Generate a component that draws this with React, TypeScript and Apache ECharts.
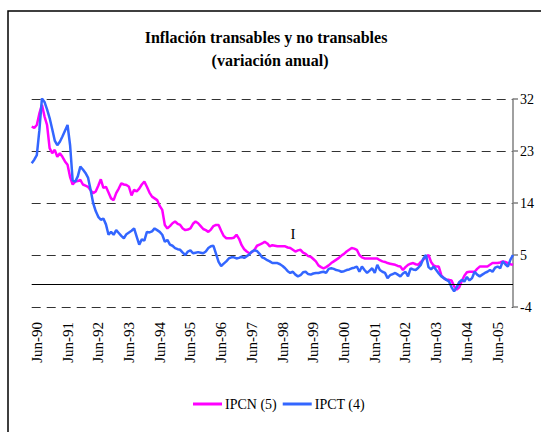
import { useEffect, useRef } from "react";
import * as echarts from "echarts";

const MONTHS = ["Jan", "Feb", "Mar", "Apr", "May", "Jun", "Jul", "Aug", "Sep", "Oct", "Nov", "Dec"];
const START_YEAR = 1990;
const START_MONTH = 3; // April 1990
const N_MONTHS = 189;

const categories: string[] = [];
for (let i = 0; i < N_MONTHS; i++) {
  const m = (START_MONTH + i) % 12;
  const y = START_YEAR + Math.floor((START_MONTH + i) / 12);
  categories.push(`${MONTHS[m]}-${String(y % 100).padStart(2, "0")}`);
}

const yTicks = { min: -4, max: 32, interval: 9 };

const ipcn = [
  27.2, 27.0, 27.5, 29.5, 31.0, 29.0, 27.5, 23.5, 22.6, 23.2,
  22.0, 22.6, 22.0, 21.2, 20.6, 18.5, 17.2, 17.7, 17.8, 18.0,
  17.2, 17.0, 16.8, 16.2, 15.7, 16.0, 17.0, 18.1, 16.6, 16.8,
  15.8, 14.8, 14.5, 15.7, 16.5, 17.4, 17.2, 17.1, 16.8, 15.3,
  16.3, 16.0, 16.5, 17.2, 17.7, 16.8, 15.8, 15.1, 14.8, 14.5,
  13.5, 12.8, 10.2, 9.6, 10.0, 10.5, 10.8, 10.4, 10.2, 9.6,
  9.3, 9.4, 9.6, 10.4, 10.8, 10.5, 10.0, 9.5, 9.3, 9.0,
  9.4, 10.0, 10.2, 10.2, 9.2, 8.3, 7.9, 7.9, 7.9, 8.0,
  8.5, 7.8, 6.7, 6.0, 5.6, 5.3, 5.5, 5.9, 6.6, 6.8,
  7.0, 7.3, 7.0, 6.5, 6.7, 6.6, 6.5, 6.5, 6.5, 6.5,
  6.3, 6.2, 5.9, 5.6, 5.8, 5.9, 5.4, 5.2, 4.8, 4.7,
  4.3, 3.9, 3.2, 2.9, 2.7, 2.9, 3.2, 3.6, 3.9, 4.2,
  4.5, 4.9, 5.2, 5.6, 5.9, 6.2, 6.1, 5.9, 5.0, 4.6,
  4.4, 4.4, 4.4, 4.4, 4.4, 4.4, 4.1, 3.9, 3.8, 3.6,
  3.5, 3.4, 3.3, 3.1, 3.0, 2.4, 2.9, 3.3, 3.5, 3.6,
  3.4, 3.3, 3.8, 4.2, 4.6, 5.0, 3.8, 3.2, 3.0, 3.0,
  1.5, 1.0, 0.7, 0.7, 0.6, -0.4, -1.0, -0.6, 0.5, 1.4,
  2.0, 2.1, 2.1, 2.1, 2.6, 3.0, 3.0, 3.0, 3.0, 3.3,
  3.6, 3.6, 3.6, 3.7, 3.9, 3.8, 3.6, 3.4, 3.3,
];

const ipct = [
  20.9, 21.5, 22.3, 26.6, 32.1, 31.5, 30.2, 28.7, 26.8, 24.8,
  24.0, 24.6, 25.5, 26.5, 27.5, 24.0, 17.9, 17.7, 18.6, 20.3,
  19.8, 19.2, 18.4, 16.3, 14.0, 12.6, 11.6, 11.1, 11.3, 10.3,
  8.5, 9.0, 8.5, 9.3, 8.8, 8.3, 7.9, 8.6, 8.9, 9.2,
  9.6, 8.2, 6.8, 7.7, 7.5, 9.0, 8.9, 9.1, 9.6, 9.3,
  9.0, 8.5, 7.3, 7.6, 6.8, 6.6, 6.2, 6.0, 5.9, 5.4,
  5.0, 5.6, 5.8, 5.3, 5.4, 5.5, 5.4, 5.3, 5.6, 6.2,
  6.5, 6.6, 5.2, 3.8, 3.1, 3.5, 3.9, 4.4, 4.6, 4.6,
  4.4, 4.5, 4.7, 4.5, 4.8, 5.1, 5.6, 5.8, 5.7, 5.2,
  4.6, 4.4, 4.1, 3.9, 3.6, 3.6, 3.6, 3.4, 3.1, 2.7,
  2.2, 1.9, 2.1, 1.6, 1.3, 1.5, 2.0, 2.1, 1.7, 1.6,
  1.8, 1.9, 1.9, 2.0, 2.1, 1.9, 2.6, 2.7, 2.6, 2.4,
  2.3, 2.1, 2.2, 2.4, 2.5, 2.7, 2.8, 3.0, 2.1, 3.0,
  2.4, 1.9, 2.3, 2.7, 1.9, 3.3, 2.4, 2.1, 1.9, 1.0,
  1.5, 1.7, 1.9, 1.6, 1.3, 1.8, 2.1, 1.3, 2.7, 2.5,
  2.4, 2.8, 3.3, 4.4, 5.0, 2.9, 2.5, 3.0, 2.4, 1.8,
  1.3, 1.0, 0.7, 0.4, -0.6, -1.3, -0.6, 0.3, 0.7, 0.4,
  1.2, 0.6, 1.0, 2.1, 1.6, 1.3, 1.6, 1.9, 2.1, 2.4,
  2.1, 2.8, 3.0, 2.7, 3.9, 3.4, 3.0, 4.2, 5.0,
];

const FONT = "Liberation Serif";

export default function App() {
  const ref = useRef<HTMLDivElement>(null);

  useEffect(() => {
    if (!ref.current) return;
    const chart = echarts.init(ref.current, undefined, { renderer: "svg" });
    chart.setOption({
      animation: false,
      backgroundColor: "#ffffff",
      textStyle: { fontFamily: FONT, color: "#000" },
      graphic: [
        {
          type: "rect",
          shape: { x: 8, y: 11, width: 700, height: 600 },
          style: { fill: "none", stroke: "#000", lineWidth: 1.5 },
          silent: true,
        },
        {
          type: "text",
          x: 266,
          y: 37,
          style: {
            text: "Inflación transables y no transables",
            fontFamily: FONT,
            fontSize: 16,
            fontWeight: "bold",
            fill: "#000",
            align: "center",
            verticalAlign: "middle",
          },
        },
        {
          type: "text",
          x: 270,
          y: 60,
          style: {
            text: "(variación anual)",
            fontFamily: FONT,
            fontSize: 16,
            fontWeight: "bold",
            fill: "#000",
            align: "center",
            verticalAlign: "middle",
          },
        },
        {
          type: "text",
          x: 293,
          y: 234,
          style: {
            text: "I",
            fontFamily: FONT,
            fontSize: 15,
            fill: "#000",
            align: "center",
            verticalAlign: "middle",
          },
        },
      ],
      grid: { left: 31.7, right: 28, top: 99, bottom: 125, containLabel: false },
      legend: {
        left: 193,
        top: 397,
        padding: 0,
        icon: "rect",
        itemWidth: 29,
        itemHeight: 3,
        itemGap: 6,
        textStyle: { fontFamily: FONT, fontSize: 14, color: "#000", padding: [0, 0, 0, -2] },
        data: ["IPCN (5)", "IPCT (4)"],
      },
      xAxis: {
        type: "category",
        data: categories,
        boundaryGap: false,
        axisLine: { show: false },
        axisTick: { show: false },
        splitLine: { show: false },
        axisLabel: {
          interval: (_idx: number, value: string) => value.startsWith("Jun"),
          rotate: 90,
          margin: 15,
          fontFamily: FONT,
          fontSize: 15,
          color: "#000",
        },
      },
      yAxis: {
        type: "value",
        position: "right",
        min: yTicks.min,
        max: yTicks.max,
        interval: yTicks.interval,
        axisLine: { show: true, lineStyle: { color: "#808080", width: 1.5 } },
        axisTick: { show: true, length: 5, lineStyle: { color: "#808080", width: 1.5 } },
        axisLabel: { margin: 7, fontFamily: FONT, fontSize: 14, color: "#000" },
        splitLine: {
          show: true,
          lineStyle: { color: "#333", width: 1, type: [9, 6] },
        },
      },
      series: [
        {
          name: "IPCN (5)",
          type: "line",
          data: ipcn,
          showSymbol: false,
          symbol: "none",
          lineStyle: { color: "#FF00FF", width: 2.5 },
          itemStyle: { color: "#FF00FF" },
          markLine: {
            silent: true,
            symbol: "none",
            label: { show: false },
            lineStyle: { color: "#000", type: "solid", width: 1 },
            data: [{ yAxis: 0 }],
          },
          z: 2,
        },
        {
          name: "IPCT (4)",
          type: "line",
          data: ipct,
          showSymbol: false,
          symbol: "none",
          lineStyle: { color: "#3366FF", width: 2.5 },
          itemStyle: { color: "#3366FF" },
          z: 3,
        },
      ],
    });
    return () => chart.dispose();
  }, []);

  return (
    <div
      ref={ref}
      style={{ position: "absolute", left: 0, top: 0, width: 541, height: 432 }}
    />
  );
}
